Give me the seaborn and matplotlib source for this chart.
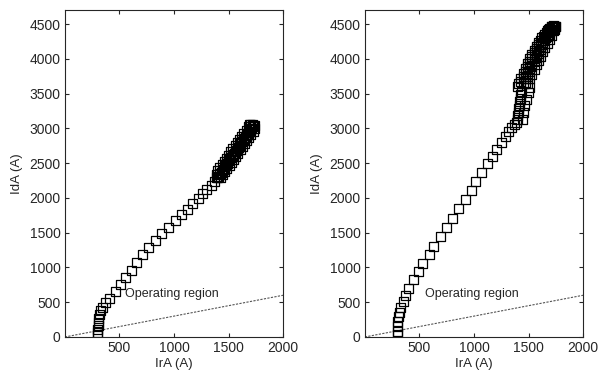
import matplotlib
matplotlib.use("Agg")
import matplotlib.pyplot as plt
import seaborn as sns
import pandas as pd

# Left panel: IdA versus IrA
left_ira = [300, 300, 302, 305, 308, 312, 318, 330, 345, 370, 410, 460, 510, 560,
            610, 660, 710, 770, 830, 890, 950, 1010, 1070, 1120, 1170, 1220, 1260,
            1300, 1340, 1370, 1390,
            1400, 1420, 1440, 1460, 1480, 1500, 1520, 1540, 1560, 1580, 1600, 1620,
            1640, 1660, 1680, 1700, 1720,
            1425, 1445, 1465, 1485, 1505, 1525, 1545, 1565, 1585, 1605, 1625, 1645,
            1665, 1685, 1705, 1725, 1740,
            1385, 1400, 1420, 1440, 1460, 1480, 1500, 1520, 1540, 1560, 1580, 1600,
            1620, 1640, 1660, 1680, 1700, 1690, 1715, 1735,
            1412, 1432, 1452, 1472, 1492, 1512, 1532, 1552, 1572, 1592, 1612, 1632,
            1652, 1672, 1692, 1712, 1730]
left_ida = [20, 60, 110, 160, 210, 260, 320, 380, 430, 490, 560, 650, 760, 860,
            960, 1070, 1180, 1280, 1390, 1490, 1580, 1670, 1760, 1840, 1920, 1990, 2060,
            2120, 2180, 2240, 2290,
            2300, 2350, 2400, 2445, 2490, 2535, 2580, 2625, 2670, 2715, 2760, 2805,
            2850, 2895, 2940, 2985, 3030,
            2290, 2330, 2380, 2420, 2465, 2510, 2555, 2600, 2645, 2690, 2735, 2780,
            2825, 2870, 2915, 2960, 3000,
            2330, 2390, 2440, 2480, 2525, 2570, 2615, 2660, 2705, 2750, 2795, 2840,
            2885, 2930, 2975, 3020, 3050, 3050, 3050, 3040,
            2310, 2365, 2410, 2460, 2500, 2550, 2595, 2640, 2685, 2730, 2775, 2820,
            2865, 2910, 2955, 3000, 3040]

# Right panel: IdA versus IrA
right_ira = [300, 300, 302, 304, 307, 315, 330, 350, 370, 400, 445, 490, 530, 590,
             630, 690, 750, 800, 860, 925, 975, 1015, 1070, 1120, 1165, 1205, 1250,
             1290, 1320, 1345, 1370,
             1390, 1395, 1400, 1405, 1410, 1415, 1420, 1425, 1430, 1435, 1400,
             1440, 1450, 1465, 1480, 1495, 1510,
             1410, 1430, 1450, 1470, 1490, 1510, 1530, 1550, 1570, 1595, 1620, 1645,
             1670, 1695,
             1450, 1470, 1490, 1510, 1530, 1550, 1570, 1590, 1610, 1630, 1655, 1680,
             1700, 1720,
             1490, 1510, 1530, 1550, 1570, 1590, 1610, 1630, 1650, 1670, 1690, 1710,
             1730, 1745,
             1430, 1450, 1470, 1490, 1510, 1530, 1550, 1570, 1590, 1612, 1637, 1662,
             1685, 1710,
             1470, 1490, 1510, 1530, 1550, 1570, 1590, 1610, 1630, 1650, 1672, 1695,
             1715, 1735,
             1710, 1730, 1750, 1740]
right_ida = [30, 80, 150, 220, 290, 350, 430, 510, 600, 700, 820, 940, 1060, 1180,
             1300, 1440, 1580, 1710, 1850, 1980, 2110, 2230, 2370, 2490, 2590, 2690, 2790,
             2880, 2950, 3010, 3060,
             3080, 3130, 3180, 3230, 3280, 3330, 3380, 3430, 3480, 3530, 3600,
             3130, 3230, 3330, 3420, 3510, 3590,
             3650, 3720, 3790, 3860, 3930, 4000, 4060, 4120, 4180, 4240, 4300, 4350,
             4400, 4440,
             3650, 3720, 3790, 3860, 3930, 4000, 4060, 4120, 4180, 4240, 4300, 4350,
             4400, 4450,
             3640, 3710, 3780, 3850, 3920, 3980, 4040, 4100, 4160, 4220, 4280, 4340,
             4400, 4460,
             3680, 3750, 3820, 3890, 3960, 4030, 4090, 4150, 4210, 4270, 4325, 4375,
             4420, 4460,
             3660, 3750, 3820, 3890, 3960, 4020, 4080, 4140, 4200, 4260, 4320, 4375,
             4425, 4470,
             4470, 4480, 4470, 4420]

# Operating-region boundary line
line_ira = [0, 2000]
line_ida = [0, 600]

x_ticks = [500, 1000, 1500, 2000]
y_ticks = [0, 500, 1000, 1500, 2000, 2500, 3000, 3500, 4000, 4500]

sns.set_style("ticks")
plt.rcParams["font.family"] = ["Liberation Sans", "DejaVu Sans"]

fig = plt.figure(figsize=(6.0, 3.74), dpi=100)
ax_l = fig.add_axes([0.108, 0.099, 0.364, 0.874])
ax_r = fig.add_axes([0.608, 0.099, 0.364, 0.874])

panels = [(ax_l, left_ira, left_ida), (ax_r, right_ira, right_ida)]
for ax, xs, ys in panels:
    df = pd.DataFrame({"IrA": xs, "IdA": ys})
    sns.lineplot(x=line_ira, y=line_ida, ax=ax, color="#555555",
                 linewidth=0.8, linestyle=(0, (2, 1.2)))
    sns.scatterplot(data=df, x="IrA", y="IdA", ax=ax, marker="s", s=42,
                    facecolor="none", edgecolor="black", linewidth=0.9, zorder=3)
    ax.text(550, 620, "Operating region", fontsize=9, ha="left", va="center")
    ax.set_xlim(0, 2000)
    ax.set_ylim(0, 4700)
    ax.set_xticks(x_ticks)
    ax.set_yticks(y_ticks)
    ax.tick_params(direction="in", top=True, right=True, length=3,
                   labelsize=10, width=0.8, pad=3)
    for sp in ax.spines.values():
        sp.set_linewidth(0.8)
    ax.set_xlabel("IrA (A)", fontsize=9.5, labelpad=2)
    ax.set_ylabel("IdA (A)", fontsize=9.5, labelpad=5)

fig.savefig("out.png", dpi=100)
